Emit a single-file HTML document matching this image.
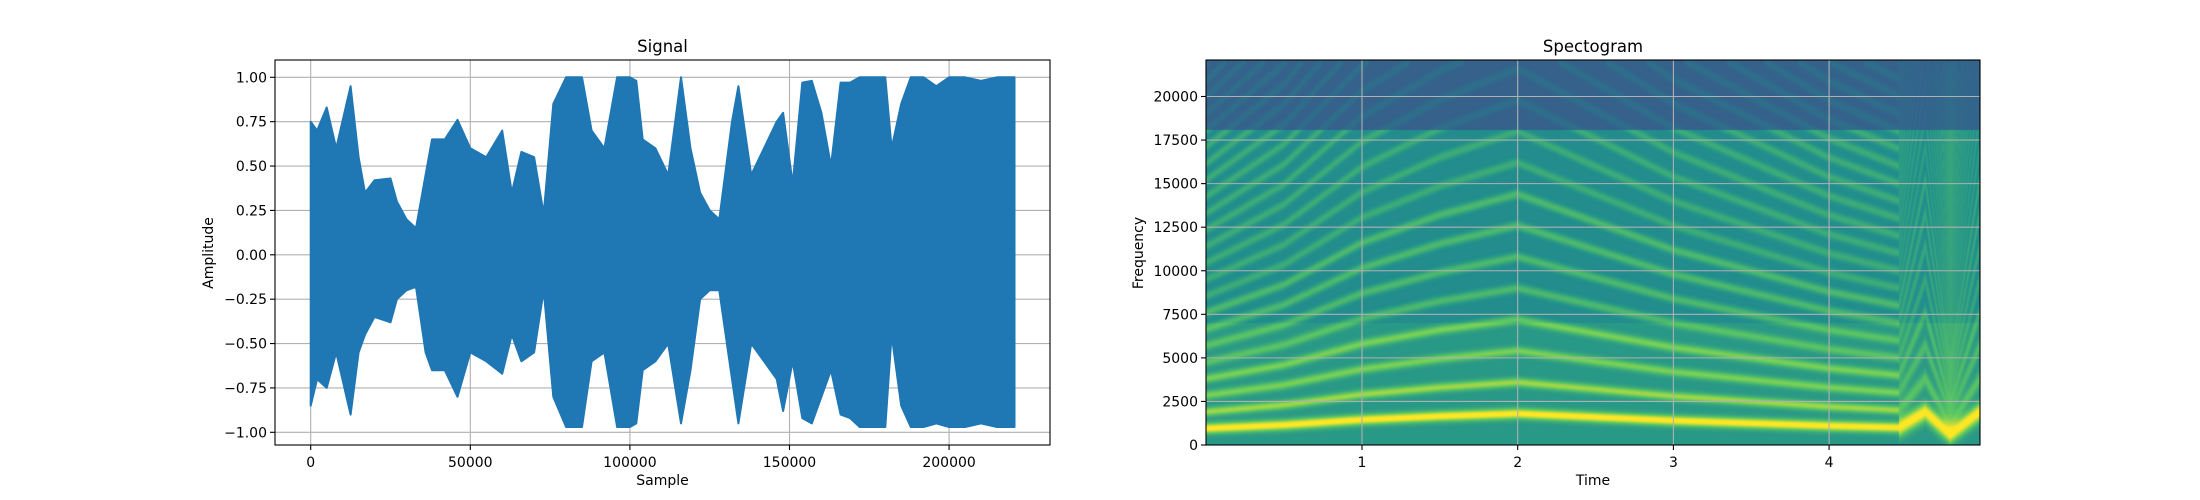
<!DOCTYPE html>
<html><head><meta charset="utf-8"><style>
body{margin:0;background:#fff;width:2200px;height:500px;overflow:hidden;position:relative;font-family:"DejaVu Sans","Liberation Sans",sans-serif}
#spec{position:absolute;left:1206px;top:60px}
svg{position:absolute;left:0;top:0}
</style></head><body>
<canvas id="spec" width="774" height="385"></canvas>
<svg id="chart" width="2200" height="500"></svg>
<script>
// ---- Signal envelope data ----
const sigSamples=[0,2000,5000,8000,12500,15000,17000,20000,25000,27000,30000,33000,36000,38000,42000,46000,50000,55000,60000,63000,66000,70000,73000,76000,80000,85000,88000,92000,96000,100000,102000,104000,108000,112000,116000,119000,122000,125000,128000,132000,134000,138000,142000,146000,148000,151000,154000,157000,160000,163000,166000,169000,172000,176000,180000,182000,185000,188000,192000,196000,200000,205000,210000,215000,220500];
const sigUpper=[0.75,0.7,0.83,0.6,0.95,0.55,0.35,0.42,0.43,0.3,0.2,0.15,0.45,0.65,0.65,0.76,0.6,0.55,0.7,0.35,0.58,0.55,0.23,0.85,1.0,1.0,0.7,0.6,1.0,1.0,0.98,0.65,0.6,0.45,1.0,0.6,0.35,0.25,0.2,0.75,0.95,0.45,0.6,0.75,0.8,0.4,0.97,0.98,0.8,0.5,0.97,0.97,1.0,1.0,1.0,0.6,0.85,1.0,1.0,0.95,1.0,1.0,0.98,1.0,1.0];
const sigLower=[-0.85,-0.7,-0.75,-0.55,-0.9,-0.55,-0.45,-0.35,-0.38,-0.25,-0.2,-0.18,-0.55,-0.65,-0.65,-0.8,-0.55,-0.6,-0.67,-0.45,-0.6,-0.55,-0.2,-0.8,-0.97,-0.97,-0.6,-0.55,-0.97,-0.97,-0.95,-0.65,-0.6,-0.5,-0.95,-0.65,-0.25,-0.2,-0.2,-0.7,-0.95,-0.5,-0.6,-0.7,-0.88,-0.6,-0.92,-0.95,-0.8,-0.65,-0.9,-0.92,-0.97,-0.97,-0.97,-0.45,-0.85,-0.97,-0.97,-0.95,-0.97,-0.97,-0.95,-0.97,-0.97];
const sigXTicks=[0,50000,100000,150000,200000];
const sigYTicks=[-1,-0.75,-0.5,-0.25,0,0.25,0.5,0.75,1];
// ---- Spectrogram data ----
const f0Times=[0,0.5,1,1.5,2,2.5,3,3.5,4,4.45,4.62,4.78,4.97];
const f0Values=[950,1150,1450,1650,1800,1600,1400,1250,1100,1000,1900,600,1900];
const cutoffTimes=[0,1,1.8,2.3,3,4,4.97];
const cutoffHz=[18100,18100,18100,18100,18100,18100,18100];
const specXTicks=[1,2,3,4];
const specYTicks=[0,2500,5000,7500,10000,12500,15000,17500,20000];

const NS='http://www.w3.org/2000/svg';
const svg=document.getElementById('chart');
function el(tag,attrs,parent){const e=document.createElementNS(NS,tag);for(const k in attrs)e.setAttribute(k,attrs[k]);(parent||svg).appendChild(e);return e;}
function txt(s,attrs){const t=el('text',Object.assign({'font-size':14,fill:'#000','font-family':'DejaVu Sans, Liberation Sans, sans-serif'},attrs));t.textContent=s;return t;}
function interp(xs,ys,x){if(x<=xs[0])return ys[0];for(let i=1;i<xs.length;i++){if(x<=xs[i]){const r=(x-xs[i-1])/(xs[i]-xs[i-1]);return ys[i-1]+r*(ys[i]-ys[i-1]);}}return ys[ys.length-1];}

// Signal axes
const L={x0:275,x1:1050,y0:60,y1:445};
const sx=s=>310.7+s/50000*159.6;
const sy=v=>254.8-v*177.5;
for(const t of sigXTicks){const g=el('line',{x1:sx(t),x2:sx(t),y1:L.y0,y2:L.y1,stroke:'#b0b0b0','stroke-width':1.1});
 el('line',{x1:sx(t),x2:sx(t),y1:L.y1,y2:L.y1+5,stroke:'#000','stroke-width':1.1});
 const l=txt(String(t),{x:sx(t),y:467,'text-anchor':'middle'});}
for(const v of sigYTicks){const g=el('line',{x1:L.x0,x2:L.x1,y1:sy(v),y2:sy(v),stroke:'#b0b0b0','stroke-width':1.1});
 el('line',{x1:L.x0-5,x2:L.x0,y1:sy(v),y2:sy(v),stroke:'#000','stroke-width':1.1});
 const l=txt((v<0?'\u2212':'')+Math.abs(v).toFixed(2),{x:L.x0-8,y:sy(v)+5,'text-anchor':'end'});}
let d='';
for(let i=0;i<sigSamples.length;i++)d+=(i?'L':'M')+sx(sigSamples[i]).toFixed(1)+','+sy(sigUpper[i]).toFixed(1);
for(let i=sigSamples.length-1;i>=0;i--)d+='L'+sx(sigSamples[i]).toFixed(1)+','+sy(sigLower[i]).toFixed(1);
const wave=el('path',{d:d+'Z',fill:'#1f77b4',stroke:'#1f77b4','stroke-width':2,'stroke-linejoin':'round'});


const lb=el('rect',{x:L.x0,y:L.y0,width:L.x1-L.x0,height:L.y1-L.y0,fill:'none',stroke:'#000','stroke-width':1.1});

const t1=txt('Signal',{x:(L.x0+L.x1)/2,y:52,'text-anchor':'middle','font-size':16.5});
const t2=txt('Sample',{x:(L.x0+L.x1)/2,y:485,'text-anchor':'middle'});
const t3=txt('Amplitude',{x:0,y:0,'text-anchor':'middle',transform:'translate(213,253) rotate(-90)'});

// Spectrogram
const R={x0:1206,x1:1980,y0:60,y1:445};
const tx=t=>1206.3+t*155.7;
const fy=f=>445-f*0.017425;
const cv=document.getElementById('spec');const ctx=cv.getContext('2d');
const W=cv.width,H=cv.height;const img=ctx.createImageData(W,H);
const vir=[[0,[68,1,84]],[0.25,[59,82,139]],[0.5,[33,145,140]],[0.75,[94,201,98]],[1,[253,231,37]]];
function cmap(v){v=Math.max(0,Math.min(1,v));for(let i=1;i<vir.length;i++){if(v<=vir[i][0]){const a=vir[i-1],b=vir[i];const r=(v-a[0])/(b[0]-a[0]);return [0,1,2].map(k=>a[1][k]+r*(b[1][k]-a[1][k]));}}return vir[4][1];}
for(let px=0;px<W;px++){
 const t=(px+0.5)/155.7;const f0=interp(f0Times,f0Values,t);const cut=interp(cutoffTimes,cutoffHz,t);
 const blur=t>4.45?1.8:1;
 for(let py=0;py<H;py++){
  const f=(H-py-0.5)/0.017425;
  let v=f>cut?0.31:(f<7000?0.53:0.48);
  let h=0;
  for(let k=1;k*f0<22050;k++){const w=(k==1?300:260)*blur;let a=k==1?0.5:(k==2?0.33:(k<5?0.27:(k<9?0.2:0.14)));if(t>4.45&&k>1)a*=0.6;const dd=(f-k*f0)/w;h+=a*Math.exp(-dd*dd);}
  if(f>cut)h*=0.4;
  v+=h;
  const c=cmap(v);const o=(py*W+px)*4;img.data[o]=c[0];img.data[o+1]=c[1];img.data[o+2]=c[2];img.data[o+3]=255;}
}
ctx.putImageData(img,0,0);
for(const t of specXTicks){const g=el('line',{x1:tx(t),x2:tx(t),y1:R.y0,y2:R.y1,stroke:'#b0b0b0','stroke-width':1.1});
 el('line',{x1:tx(t),x2:tx(t),y1:R.y1,y2:R.y1+5,stroke:'#000','stroke-width':1.1});
 const l=txt(String(t),{x:tx(t),y:467,'text-anchor':'middle'});}
for(const f of specYTicks){const g=el('line',{x1:R.x0,x2:R.x1,y1:fy(f),y2:fy(f),stroke:'#b0b0b0','stroke-width':1.1});
 el('line',{x1:R.x0-5,x2:R.x0,y1:fy(f),y2:fy(f),stroke:'#000','stroke-width':1.1});
 const l=txt(String(f),{x:R.x0-8,y:fy(f)+5,'text-anchor':'end'});}
const rb=el('rect',{x:R.x0,y:R.y0,width:R.x1-R.x0,height:R.y1-R.y0,fill:'none',stroke:'#000','stroke-width':1.1});

const s1=txt('Spectogram',{x:(R.x0+R.x1)/2,y:52,'text-anchor':'middle','font-size':16.5});
const s2=txt('Time',{x:(R.x0+R.x1)/2,y:485,'text-anchor':'middle'});
const s3=txt('Frequency',{x:0,y:0,'text-anchor':'middle',transform:'translate(1143,253) rotate(-90)'});
</script>
</body></html>
